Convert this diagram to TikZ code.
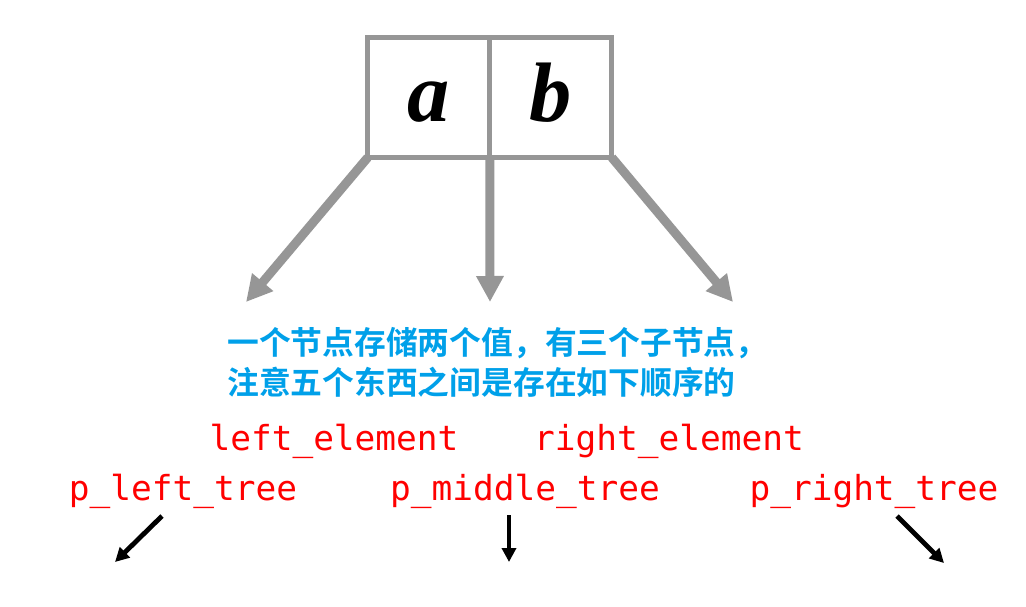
\documentclass[tikz,border=0pt]{standalone}
\usepackage{fontspec}
\usepackage{xcolor}
\usetikzlibrary{arrows.meta, positioning}
\newfontfamily\cjkfont{Noto Sans CJK SC}[BoldFont={Noto Sans CJK SC Bold}]
\newfontfamily\codefont{DejaVu Sans Mono}
\newfontfamily\keyfont{Liberation Serif}
\definecolor{Box_Gray}{HTML}{969696}
\definecolor{Note_Blue}{HTML}{00A0E9}
\definecolor{Code_Red}{HTML}{FF0000}

\begin{document}
\begin{tikzpicture}[x=0.025cm, y=-0.025cm,
    cell/.style={draw=Box_Gray, line width=0.125cm, minimum width=3.05cm, minimum height=3cm,
        inner sep=0pt, outer sep=0pt, text height=1.21cm, text depth=0pt,
        font=\keyfont\bfseries\itshape\fontsize{60}{60}\selectfont},
    branch/.style={draw=Box_Gray, line width=0.225cm, -{Triangle[width=0.65cm, length=0.65cm]}},
    pointer/.style={draw=black, line width=0.12cm, -{Triangle[width=0.35cm, length=0.35cm]}},
    note/.style={anchor=base west, inner sep=0pt, text=Note_Blue,
        font=\cjkfont\bfseries\fontsize{22.6}{28}\selectfont},
    field/.style={anchor=base, inner sep=0pt, text=Code_Red,
        font=\codefont\fontsize{24.5}{28}\selectfont}]
    \useasboundingbox (0,0) rectangle (1026,606);

    % The 2-node with its two keys
    \node[cell] (a) at (428.75,97.5) {a};
    \node[cell, right=0pt of a] (b) {b};

    % Three children
    \coordinate (left_end) at (246,302);
    \coordinate (mid_end) at (490,302);
    \coordinate (right_end) at (733,302);
    \draw[branch] (a.south west) -- (left_end);
    \draw[branch] (a.south east) -- (mid_end);
    \draw[branch] (b.south east) -- (right_end);

    % Note
    \node[note] (note_1) at (227,354.5) {一个节点存储两个值，有三个子节点，};
    \node[note] (note_2) at (227,394) {注意五个东西之间是存在如下顺序的};

    % Field names
    \node[field] (left_element) at (334,450) {left\_element};
    \node[field] (right_element) at (669,450) {right\_element};
    \node[field] (p_left_tree) at (183,500) {p\_left\_tree};
    \node[field] (p_middle_tree) at (525,500) {p\_middle\_tree};
    \node[field] (p_right_tree) at (874,500) {p\_right\_tree};

    % Pointers below the subtrees
    \coordinate (pl_start) at (162,516);
    \coordinate (pl_end) at (115,562);
    \coordinate (pm_start) at (509,515);
    \coordinate (pm_end) at (509,562);
    \coordinate (pr_start) at (897,516);
    \coordinate (pr_end) at (944,563);
    \draw[pointer] (pl_start) -- (pl_end);
    \draw[pointer] (pm_start) -- (pm_end);
    \draw[pointer] (pr_start) -- (pr_end);
\end{tikzpicture}
\end{document}
